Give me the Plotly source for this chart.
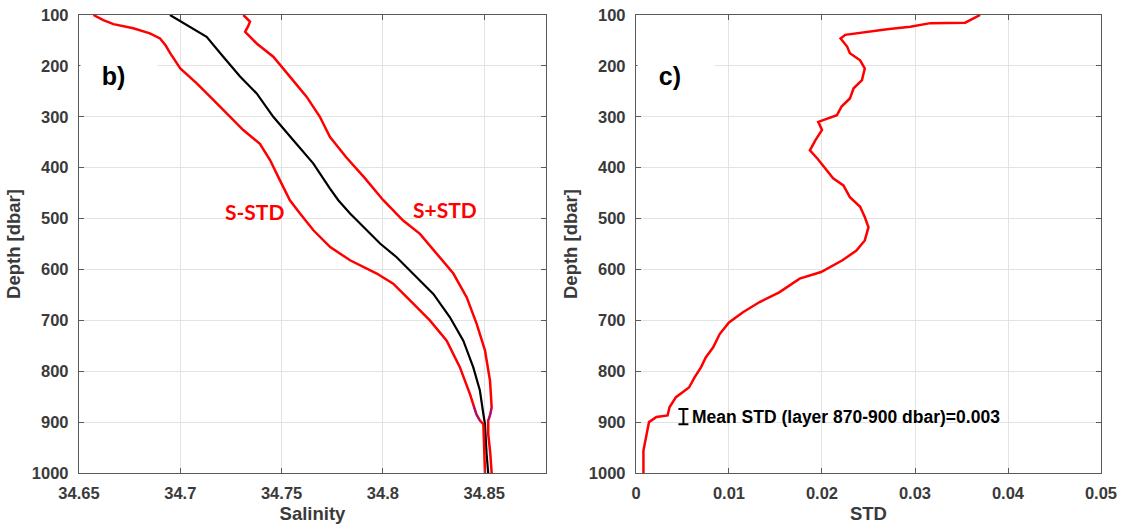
import plotly.graph_objects as go

# ---------------- data ----------------
# panel b) : mean salinity profile and +/- STD envelopes
depth_mean = [100, 123, 143, 182, 221, 254, 300, 346, 392, 441, 464, 490, 523, 549,
              576, 615, 648, 694, 740, 792, 838, 884, 904, 963, 1000]
sal_mean = [34.6949, 34.7048, 34.713, 34.7212, 34.7295, 34.7377, 34.7459, 34.7558,
            34.7657, 34.7739, 34.778, 34.7838, 34.792, 34.7986, 34.8068, 34.8167,
            34.8249, 34.8331, 34.8397, 34.8446, 34.8479, 34.8496, 34.8504, 34.8512,
            34.852]

depth_minus = [100, 110, 118, 126, 136, 146, 160, 175, 205, 234, 267, 300, 326, 353, 385,
               425, 464, 490, 523, 556, 582, 608, 628, 661, 700, 740, 792, 845, 870,
               885, 897, 904, 950, 1000]
sal_minus = [34.6571, 34.662, 34.667, 34.6768, 34.685, 34.690, 34.6928, 34.695, 34.700,
             34.708, 34.7163, 34.7245, 34.7311, 34.7393, 34.7443, 34.7492, 34.7541,
             34.7591, 34.7657, 34.774, 34.7838, 34.797, 34.8051, 34.8134, 34.8232,
             34.8315, 34.838, 34.843, 34.8448, 34.8462, 34.8479, 34.8496, 34.8500,
             34.8504]

depth_plus = [100, 113, 122, 133, 156, 182, 221, 261, 300, 340, 380, 420, 464, 504,
              530, 569, 608, 655, 707, 759, 819, 871, 885, 897, 923, 960, 1000]
sal_plus = [34.7311, 34.7344, 34.7335, 34.732, 34.7377, 34.7459, 34.7541, 34.7624,
            34.7689, 34.7739, 34.782, 34.791, 34.8002, 34.810, 34.8183, 34.8266,
            34.8348, 34.8414, 34.8463, 34.8504, 34.8529, 34.8537, 34.853, 34.852,
            34.852, 34.853, 34.8537]

# panel c) : standard deviation profile
depth_std = [100, 110, 115, 116, 123, 128, 135, 139, 146, 162, 175, 189, 205, 228, 244,
             264, 280, 297, 310, 326, 346, 366, 382, 399, 421, 435, 458, 477, 497, 517,
             543, 563, 582, 605, 618, 645, 664, 684, 704, 727, 753, 773, 792, 812, 832,
             851, 871, 887, 890, 900, 930, 956, 1000]
std_vals = [0.0370, 0.03595, 0.0354, 0.03165, 0.0295, 0.0270, 0.0241, 0.0225, 0.0220,
            0.0227, 0.0230, 0.0241, 0.0246, 0.0243, 0.0234, 0.0230, 0.0221, 0.0216,
            0.0196, 0.0200, 0.0193, 0.0187, 0.0195, 0.0202, 0.0212, 0.0223, 0.0230,
            0.0241, 0.0246, 0.0250, 0.0246, 0.0237, 0.0222, 0.0199, 0.0176, 0.0154,
            0.0133, 0.0115, 0.0100, 0.0090, 0.0083, 0.0075, 0.0070, 0.0063, 0.0057,
            0.0043, 0.0036, 0.0034, 0.0022, 0.0014, 0.0011, 0.0008, 0.0008]

layer_top, layer_bottom = 870, 900
mean_std_x = [0.0051]
mean_std_depth = [889]
mean_std_half = [15]
mean_std_text = "Mean STD (layer 870-900 dbar)=0.003"

sal_ticks = [34.65, 34.7, 34.75, 34.8, 34.85]
sal_ticklabels = ["34.65", "34.7", "34.75", "34.8", "34.85"]
std_ticks = [0, 0.01, 0.02, 0.03, 0.04, 0.05]
std_ticklabels = ["0", "0.01", "0.02", "0.03", "0.04", "0.05"]
depth_ticks = [100, 200, 300, 400, 500, 600, 700, 800, 900, 1000]

# ---------------- figure ----------------
RED = "#ff0000"
PURPLE = "#8b1a9a"
FONT = "Liberation Sans, Arial, sans-serif"

fig = go.Figure()

fig.add_trace(go.Scatter(x=sal_mean, y=depth_mean, mode="lines",
                         line=dict(color="black", width=2.2), xaxis="x", yaxis="y"))
fig.add_trace(go.Scatter(x=sal_minus, y=depth_minus, mode="lines",
                         line=dict(color=RED, width=2.5), xaxis="x", yaxis="y"))
fig.add_trace(go.Scatter(x=sal_plus, y=depth_plus, mode="lines",
                         line=dict(color=RED, width=2.5), xaxis="x", yaxis="y"))

# purple highlight of the 870-900 dbar layer on both envelopes
for dd, ss in ((depth_minus, sal_minus), (depth_plus, sal_plus)):
    sub = [(s, d) for s, d in zip(ss, dd) if layer_top <= d <= layer_bottom]
    fig.add_trace(go.Scatter(x=[p[0] for p in sub], y=[p[1] for p in sub], mode="lines",
                             line=dict(color=PURPLE, width=1.5), xaxis="x", yaxis="y"))

fig.add_trace(go.Scatter(x=std_vals, y=depth_std, mode="lines",
                         line=dict(color=RED, width=2.5), xaxis="x2", yaxis="y2"))

fig.add_trace(go.Scatter(x=mean_std_x, y=mean_std_depth, mode="markers",
                         marker=dict(size=1, color="black"),
                         error_y=dict(type="data", array=mean_std_half, visible=True,
                                      color="black", thickness=2, width=5),
                         xaxis="x2", yaxis="y2"))

axis_common = dict(
    showgrid=True, gridcolor="#e3e3e3", gridwidth=1,
    showline=True, linecolor="#5a5a5a", linewidth=1.3, mirror="ticks",
    ticks="inside", ticklen=5, tickcolor="#5a5a5a", tickwidth=1,
    zeroline=False, automargin=False,
    tickfont=dict(family=FONT, size=16.5, color="#3a3a3a", weight="bold"),
    title_font=dict(family=FONT, size=18.5, color="#3a3a3a", weight="bold"),
)

fig.update_layout(
    width=1122, height=532,
    margin=dict(l=79, r=21, t=15, b=59),
    paper_bgcolor="white", plot_bgcolor="white",
    showlegend=False,
    xaxis=dict(domain=[0, 0.4569], range=[34.65, 34.8805], tickvals=sal_ticks,
               ticktext=sal_ticklabels, title=dict(text="Salinity", standoff=6),
               ticklabelstandoff=5, anchor="y", **axis_common),
    yaxis=dict(range=[1000, 100], tickvals=depth_ticks,
               title=dict(text="Depth [dbar]", standoff=6),
               ticklabelstandoff=6, anchor="x", **axis_common),
    xaxis2=dict(domain=[0.545, 1.0], range=[0, 0.05], tickvals=std_ticks,
                ticktext=std_ticklabels, title=dict(text="STD", standoff=6),
                ticklabelstandoff=5, anchor="y2", **axis_common),
    yaxis2=dict(range=[1000, 100], tickvals=depth_ticks,
                title=dict(text="Depth [dbar]", standoff=6),
                ticklabelstandoff=6, anchor="x2", **axis_common),
)

# panel labels with white background (hide grid line)
for ax, lab in (("x", "b)"), ("x2", "c)")):
    fig.add_annotation(xref=f"{ax} domain", yref="y domain", x=0.002, y=0.867,
                       xanchor="left", yanchor="middle",
                       text="&nbsp;&nbsp;&nbsp;" + lab, showarrow=False, align="left",
                       width=76, bgcolor="white", borderpad=0,
                       font=dict(family=FONT, size=25, color="black", weight="bold"))

# envelope labels
fig.add_annotation(x=34.7364, y=487, xref="x", yref="y", text="S-STD", showarrow=False,
                   font=dict(family="Lato, Open Sans, sans-serif", size=21, color=RED,
                             weight="bold"))
fig.add_annotation(x=34.8309, y=483, xref="x", yref="y", text="S+STD", showarrow=False,
                   font=dict(family="Lato, Open Sans, sans-serif", size=21, color=RED,
                             weight="bold"))

# mean STD note
fig.add_annotation(x=0.0058, y=889, xref="x2", yref="y2", text=mean_std_text,
                   showarrow=False, xanchor="left", yanchor="middle",
                   font=dict(family=FONT, size=17.5, color="black", weight="bold"))

fig.write_html("out.html", config={"displayModeBar": False},
               post_script="document.body.style.margin='0';")
